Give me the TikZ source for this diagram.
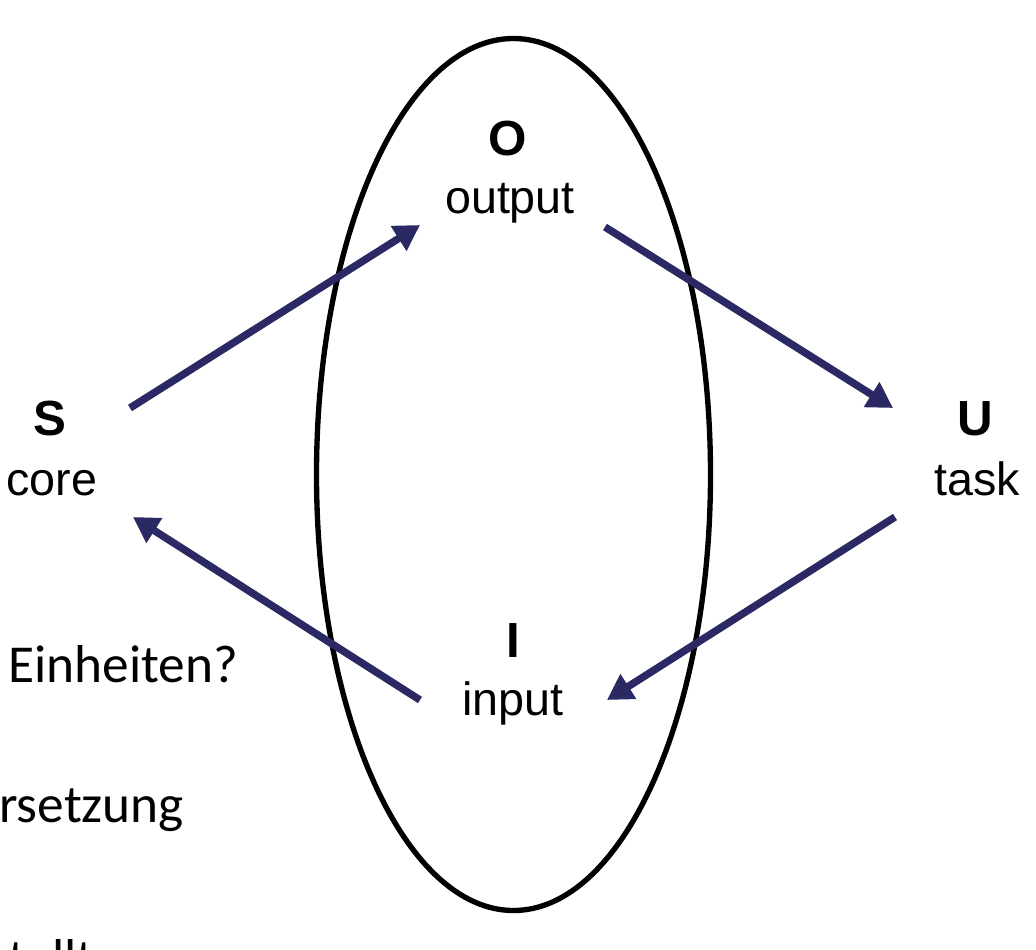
\documentclass[tikz,border=0pt]{standalone}
\usepackage{fontspec}
\setmainfont{Liberation Sans}
\newfontfamily\slidefont{Carlito}
\usetikzlibrary{arrows.meta}

\definecolor{flowblue}{RGB}{42,41,99}

\tikzset{
	letter/.style={font=\fontsize{37}{44}\selectfont\bfseries, inner sep=0pt, anchor=base},
	word/.style={font=\fontsize{35}{42}\selectfont, inner sep=0pt, anchor=base},
	backtext/.style={font=\slidefont\fontsize{40}{48}\selectfont, inner sep=0pt, anchor=base west},
	flow/.style={draw=flowblue, line width=5.6pt, -{Triangle[length=19pt,width=21pt]}},
	setline/.style={draw=black, line width=4pt}
}

\begin{document}
\begin{tikzpicture}[x=0.75pt,y=-0.75pt]
		\clip (0,0) rectangle (1036,950);
		
		% slide text behind the picture
		\node[backtext] (einheiten) at (8,682) {Einheiten?};
		\node[backtext] (setzung) at (-1,822) {rsetzung};
		\node[backtext] (stellt) at (-12,976) {stellt};
		
		\draw[setline] (513.5,474.5) ellipse [x radius=197, y radius=436];
		
		\node[letter] (S) at (50,435) {S};
		\node[word] (core) at (52,495) {core};
		
		\node[letter] (O) at (508,155) {O};
		\node[word] (output) at (510,213) {output};
		
		\node[letter] (U) at (975,435) {U};
		\node[word] (task) at (977,495) {task};
		
		\node[letter] (I) at (513,657) {I};
		\node[word] (input) at (513,715) {input};
		
		\draw[flow] ([shift={(80,-27)}]S.base) -- ([shift={(-90,12)}]output.base);
		\draw[flow] ([shift={(95,14)}]output.base) -- ([shift={(-82,-27)}]U.base);
		\draw[flow] ([shift={(-82,22)}]task.base) -- ([shift={(94,-15)}]input.base);
		\draw[flow] ([shift={(-93,-15)}]input.base) -- ([shift={(81,22)}]core.base);
		
	\end{tikzpicture}
\end{document}
